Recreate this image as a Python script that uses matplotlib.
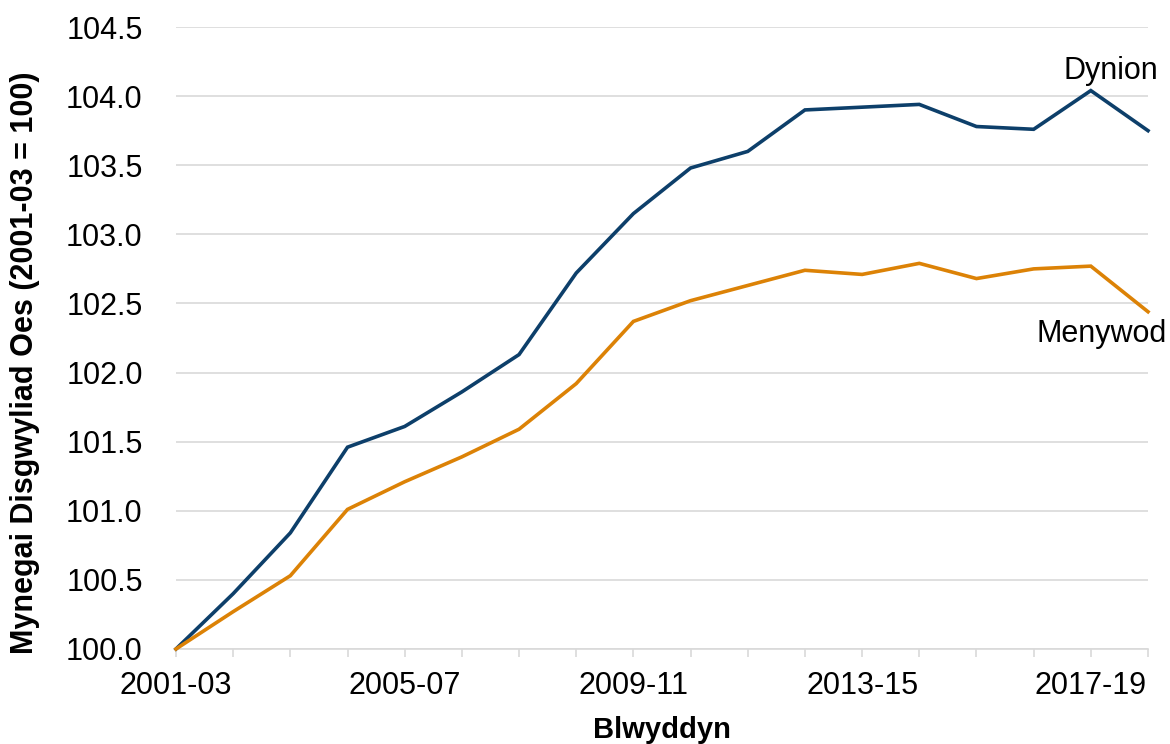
import matplotlib.pyplot as plt

plt.rcParams['font.family'] = ['Liberation Sans', 'DejaVu Sans']

years = ['2001-03', '2002-04', '2003-05', '2004-06', '2005-07', '2006-08',
         '2007-09', '2008-10', '2009-11', '2010-12', '2011-13', '2012-14',
         '2013-15', '2014-16', '2015-17', '2016-18', '2017-19', '2018-20']
dynion = [100.0, 100.40, 100.84, 101.46, 101.61, 101.86, 102.13, 102.72, 103.15,
          103.48, 103.60, 103.90, 103.92, 103.94, 103.78, 103.76, 104.04, 103.75]
menywod = [100.0, 100.27, 100.53, 101.01, 101.21, 101.39, 101.59, 101.92, 102.37,
           102.52, 102.63, 102.74, 102.71, 102.79, 102.68, 102.75, 102.77, 102.44]

blue = '#0d3f6a'
orange = '#dc8206'
grey = '#d9d9d9'

fig = plt.figure(figsize=(11.7, 7.44), dpi=100)
ax = fig.add_axes([0.1504, 0.1277, 0.8308, 0.836])

x = list(range(len(years)))
ax.plot(x, dynion, color=blue, lw=2.6, solid_joinstyle='miter', clip_on=False, zorder=3)
ax.plot(x, menywod, color=orange, lw=2.6, solid_joinstyle='miter', clip_on=False, zorder=3)

ax.set_xlim(0, len(years) - 1)
ax.set_ylim(100, 104.5)
ax.set_yticks([100 + 0.5 * i for i in range(10)])
ax.set_yticklabels([f'{100 + 0.5 * i:.1f}' for i in range(10)])
ax.yaxis.grid(True, color=grey, lw=1.2)
ax.set_axisbelow(True)

ax.set_xticks(x)
ax.set_xticklabels([y if i % 4 == 0 else '' for i, y in enumerate(years)])
ax.tick_params(axis='x', length=6, color=grey, width=1.2, labelsize=22, pad=10)
ax.tick_params(axis='y', length=0, labelsize=22, pad=24)

for s in ['top', 'right', 'left']:
    ax.spines[s].set_visible(False)
ax.spines['bottom'].set_color(grey)
ax.spines['bottom'].set_linewidth(1.2)

ax.set_xlabel('Blwyddyn', fontsize=21, fontweight='bold', labelpad=11)
ax.set_ylabel('Mynegai Disgwyliad Oes (2001-03 = 100)', fontsize=22, fontweight='bold')
ax.yaxis.set_label_coords(-0.14, 0.461)

ax.text(16.35, 104.18, 'Dynion', fontsize=22, ha='center', va='center')
ax.text(17.33, 102.28, 'Menywod', fontsize=22, ha='right', va='center')

fig.savefig('out.png', dpi=100)
